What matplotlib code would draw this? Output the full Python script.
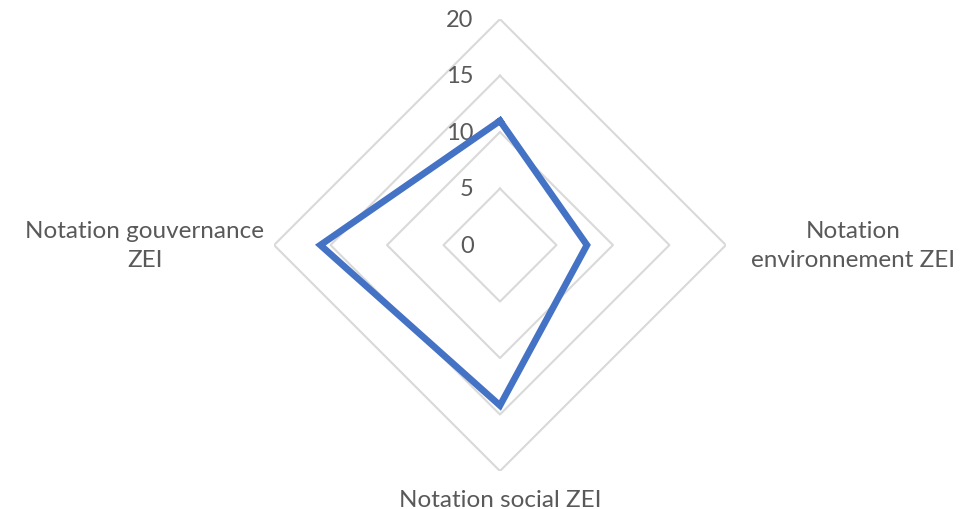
import numpy as np
import matplotlib
matplotlib.use("Agg")
import matplotlib.pyplot as plt

# categories clockwise from the top (the top one has no label)
categories = ["", "Notation\nenvironnement ZEI", "Notation social ZEI", "Notation gouvernance\nZEI"]
values = [11.0, 7.7, 14.2, 15.9]
levels = [5, 10, 15, 20]
tick_labels = ["0", "5", "10", "15", "20"]

plt.rcParams['font.family'] = ['Lato', 'DejaVu Sans']
txt_col = '#595959'
grid_col = '#d9d9d9'
blue = '#4472c4'

fig = plt.figure(figsize=(9.68, 5.10), dpi=100)
ax = fig.add_axes([0.283, 0.0745, 0.467, 0.886], projection='polar')
ax.set_theta_offset(np.pi / 2)
ax.set_theta_direction(-1)
ax.set_ylim(0, 20)
ax.grid(False)
ax.spines['polar'].set_visible(False)
ax.set_xticks([])
ax.set_yticks([])

n = len(categories)
angles = np.linspace(0, 2 * np.pi, n, endpoint=False)
closed = np.append(angles, angles[0])

# diamond gridlines
for lv in levels:
    ax.plot(closed, [lv] * (n + 1), color=grid_col, lw=1.5, zorder=1)

# data
ax.plot(closed, values + [values[0]], color=blue, lw=4.8, zorder=3,
        solid_joinstyle='miter')

# radial tick labels along the top axis
for lab, r in zip(tick_labels, [0] + levels):
    ax.annotate(lab, xy=(0, r), xytext=(-19, 0), textcoords='offset points',
                ha='right', va='center', fontsize=17, color=txt_col, zorder=2)

# category labels
offsets = [(0, 0), (18, 0), (0, -13), (-7, 0)]
aligns = [('center', 'bottom'), ('left', 'center'), ('center', 'top'), ('right', 'center')]
for a, lab, off, (ha, va) in zip(angles, categories, offsets, aligns):
    if lab:
        ax.annotate(lab, xy=(a, 20), xytext=off, textcoords='offset points',
                    ha=ha, va=va, multialignment='center', fontsize=17.5,
                    color=txt_col, linespacing=1.45)

fig.savefig("out.png", dpi=100)
